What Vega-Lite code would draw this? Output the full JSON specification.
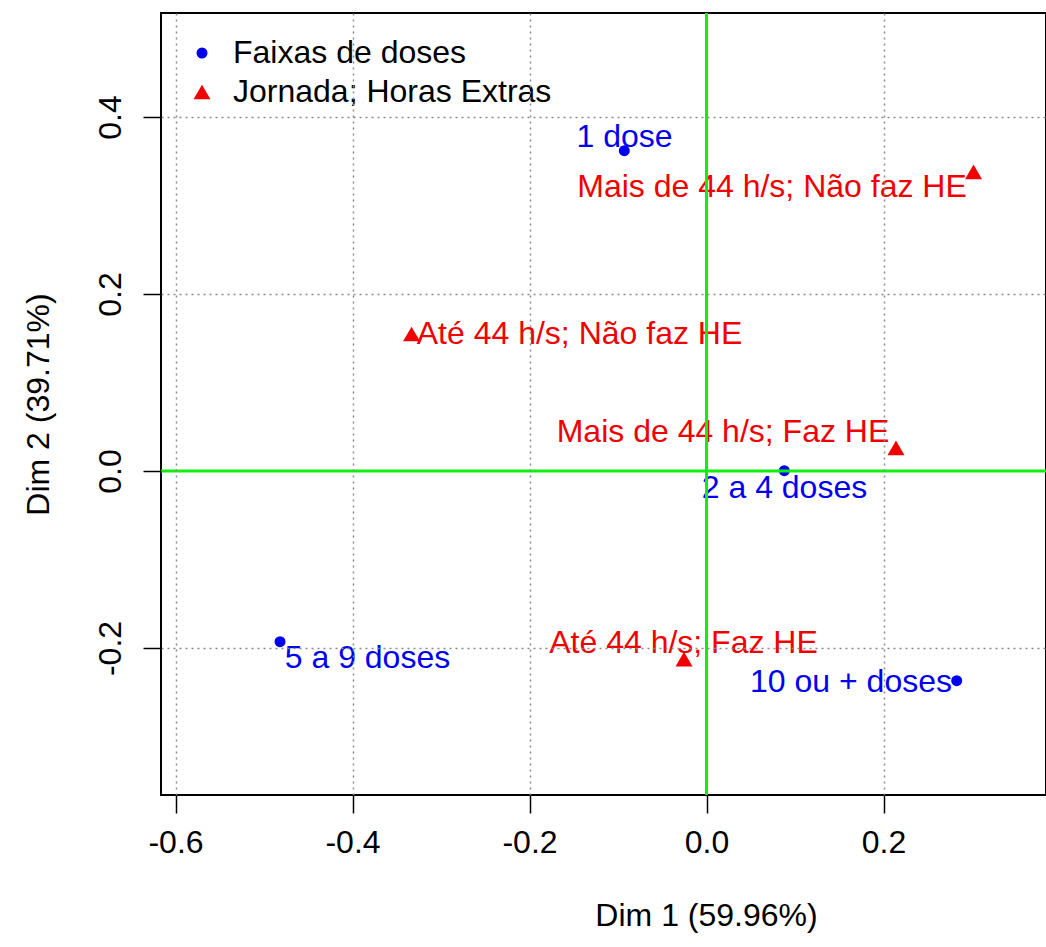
{
  "$schema": "https://vega.github.io/schema/vega-lite/v6.json",
  "width": 885,
  "height": 782,
  "autosize": {"type": "none"},
  "padding": {"left": 161, "top": 13, "right": 0, "bottom": 152},
  "background": "white",
  "config": {
    "font": "Liberation Sans",
    "view": {"stroke": "black", "strokeWidth": 2},
    "axis": {"titleFontWeight": "normal"}
  },
  "datasets": {
    "pts": [
      {"cat": "1 dose", "grupo": "Faixas de doses", "dim1": -0.0929, "dim2": 0.3619, "lx": -0.0926, "ly": 0.3774},
      {"cat": "2 a 4 doses", "grupo": "Faixas de doses", "dim1": 0.0879, "dim2": 0.0003, "lx": 0.0881, "ly": -0.0197},
      {"cat": "5 a 9 doses", "grupo": "Faixas de doses", "dim1": -0.4819, "dim2": -0.1929, "lx": -0.3831, "ly": -0.2117},
      {"cat": "10 ou + doses", "grupo": "Faixas de doses", "dim1": 0.2827, "dim2": -0.2369, "lx": 0.1633, "ly": -0.2389},
      {"cat": "Mais de 44 h/s; Não faz HE", "grupo": "Jornada; Horas Extras", "dim1": 0.3017, "dim2": 0.3379, "lx": 0.074, "ly": 0.3204},
      {"cat": "Até 44 h/s; Não faz HE", "grupo": "Jornada; Horas Extras", "dim1": -0.3333, "dim2": 0.1548, "lx": -0.1435, "ly": 0.1544},
      {"cat": "Mais de 44 h/s; Faz HE", "grupo": "Jornada; Horas Extras", "dim1": 0.2141, "dim2": 0.026, "lx": 0.0186, "ly": 0.0436},
      {"cat": "Até 44 h/s; Faz HE", "grupo": "Jornada; Horas Extras", "dim1": -0.0254, "dim2": -0.2125, "lx": -0.026, "ly": -0.1948}
    ],
    "origin": [{"v": 0}]
  },
  "layer": [
    {
      "data": {"name": "pts"},
      "mark": {"type": "point", "filled": true, "opacity": 1, "strokeWidth": 0},
      "encoding": {
        "x": {
          "field": "dim1", "type": "quantitative",
          "scale": {"domain": [-0.6164, 0.3836], "nice": false, "zero": false},
          "axis": {
            "values": [-0.6, -0.4, -0.2, 0, 0.2],
            "labelExpr": "(datum.value < 0 ? '-' : '') + format(abs(datum.value), '.1f')",
            "labelFontSize": 32, "labelColor": "black", "labelPadding": 14,
            "labelFlush": false, "labelOverlap": false,
            "tickColor": "black", "tickSize": 18, "tickWidth": 1.5,
            "domain": false,
            "grid": true, "gridColor": "#8a8a8a", "gridDash": [2, 4], "gridWidth": 1.5,
            "gridOpacity": {"condition": {"test": "datum.value === 0", "value": 0}, "value": 1},
            "title": "Dim 1 (59.96%)", "titleFontSize": 32, "titleColor": "black",
            "titleX": 545, "titleY": 120, "titleBaseline": "middle",
            "zindex": 1
          }
        },
        "y": {
          "field": "dim2", "type": "quantitative",
          "scale": {"domain": [-0.3661, 0.5175], "nice": false, "zero": false},
          "axis": {
            "values": [-0.2, 0, 0.2, 0.4],
            "labelExpr": "(datum.value < 0 ? '-' : '') + format(abs(datum.value), '.1f')",
            "labelFontSize": 32, "labelColor": "black", "labelPadding": 23,
            "labelAngle": -90, "labelAlign": "center", "labelBaseline": "alphabetic",
            "labelFlush": false, "labelOverlap": false,
            "tickColor": "black", "tickSize": 18, "tickWidth": 1.5,
            "domain": false,
            "grid": true, "gridColor": "#8a8a8a", "gridDash": [2, 4], "gridWidth": 1.5,
            "gridOpacity": {"condition": {"test": "datum.value === 0", "value": 0}, "value": 1},
            "title": "Dim 2 (39.71%)", "titleFontSize": 32, "titleColor": "black",
            "titleX": -123, "titleBaseline": "middle",
            "zindex": 1
          }
        },
        "color": {
          "field": "grupo", "type": "nominal",
          "scale": {"domain": ["Faixas de doses", "Jornada; Horas Extras"], "range": ["#0000F0", "#F00000"]},
          "legend": {
            "title": null, "orient": "none", "legendX": 25, "legendY": 24,
            "labelFontSize": 32, "labelColor": "black", "labelOffset": 15,
            "rowPadding": 7, "padding": 0, "symbolStrokeWidth": 0, "labelLimit": 600
          }
        },
        "shape": {
          "field": "grupo", "type": "nominal",
          "scale": {"domain": ["Faixas de doses", "Jornada; Horas Extras"], "range": ["circle", "triangle-up"]}
        },
        "size": {
          "field": "grupo", "type": "nominal",
          "scale": {"domain": ["Faixas de doses", "Jornada; Horas Extras"], "range": [121, 289]}
        }
      }
    },
    {
      "data": {"name": "pts"},
      "mark": {"type": "text", "fontSize": 32, "align": "center", "baseline": "middle"},
      "encoding": {
        "x": {"field": "lx", "type": "quantitative"},
        "y": {"field": "ly", "type": "quantitative"},
        "text": {"field": "cat", "type": "nominal"},
        "color": {"field": "grupo", "type": "nominal", "legend": null}
      }
    },
    {
      "data": {"name": "origin"},
      "mark": {"type": "rule", "color": "#10EE10", "strokeWidth": 3},
      "encoding": {
        "x": {"field": "v", "type": "quantitative"}
      }
    },
    {
      "data": {"name": "origin"},
      "mark": {"type": "rule", "color": "#10EE10", "strokeWidth": 3},
      "encoding": {
        "y": {"field": "v", "type": "quantitative"}
      }
    }
  ]
}
